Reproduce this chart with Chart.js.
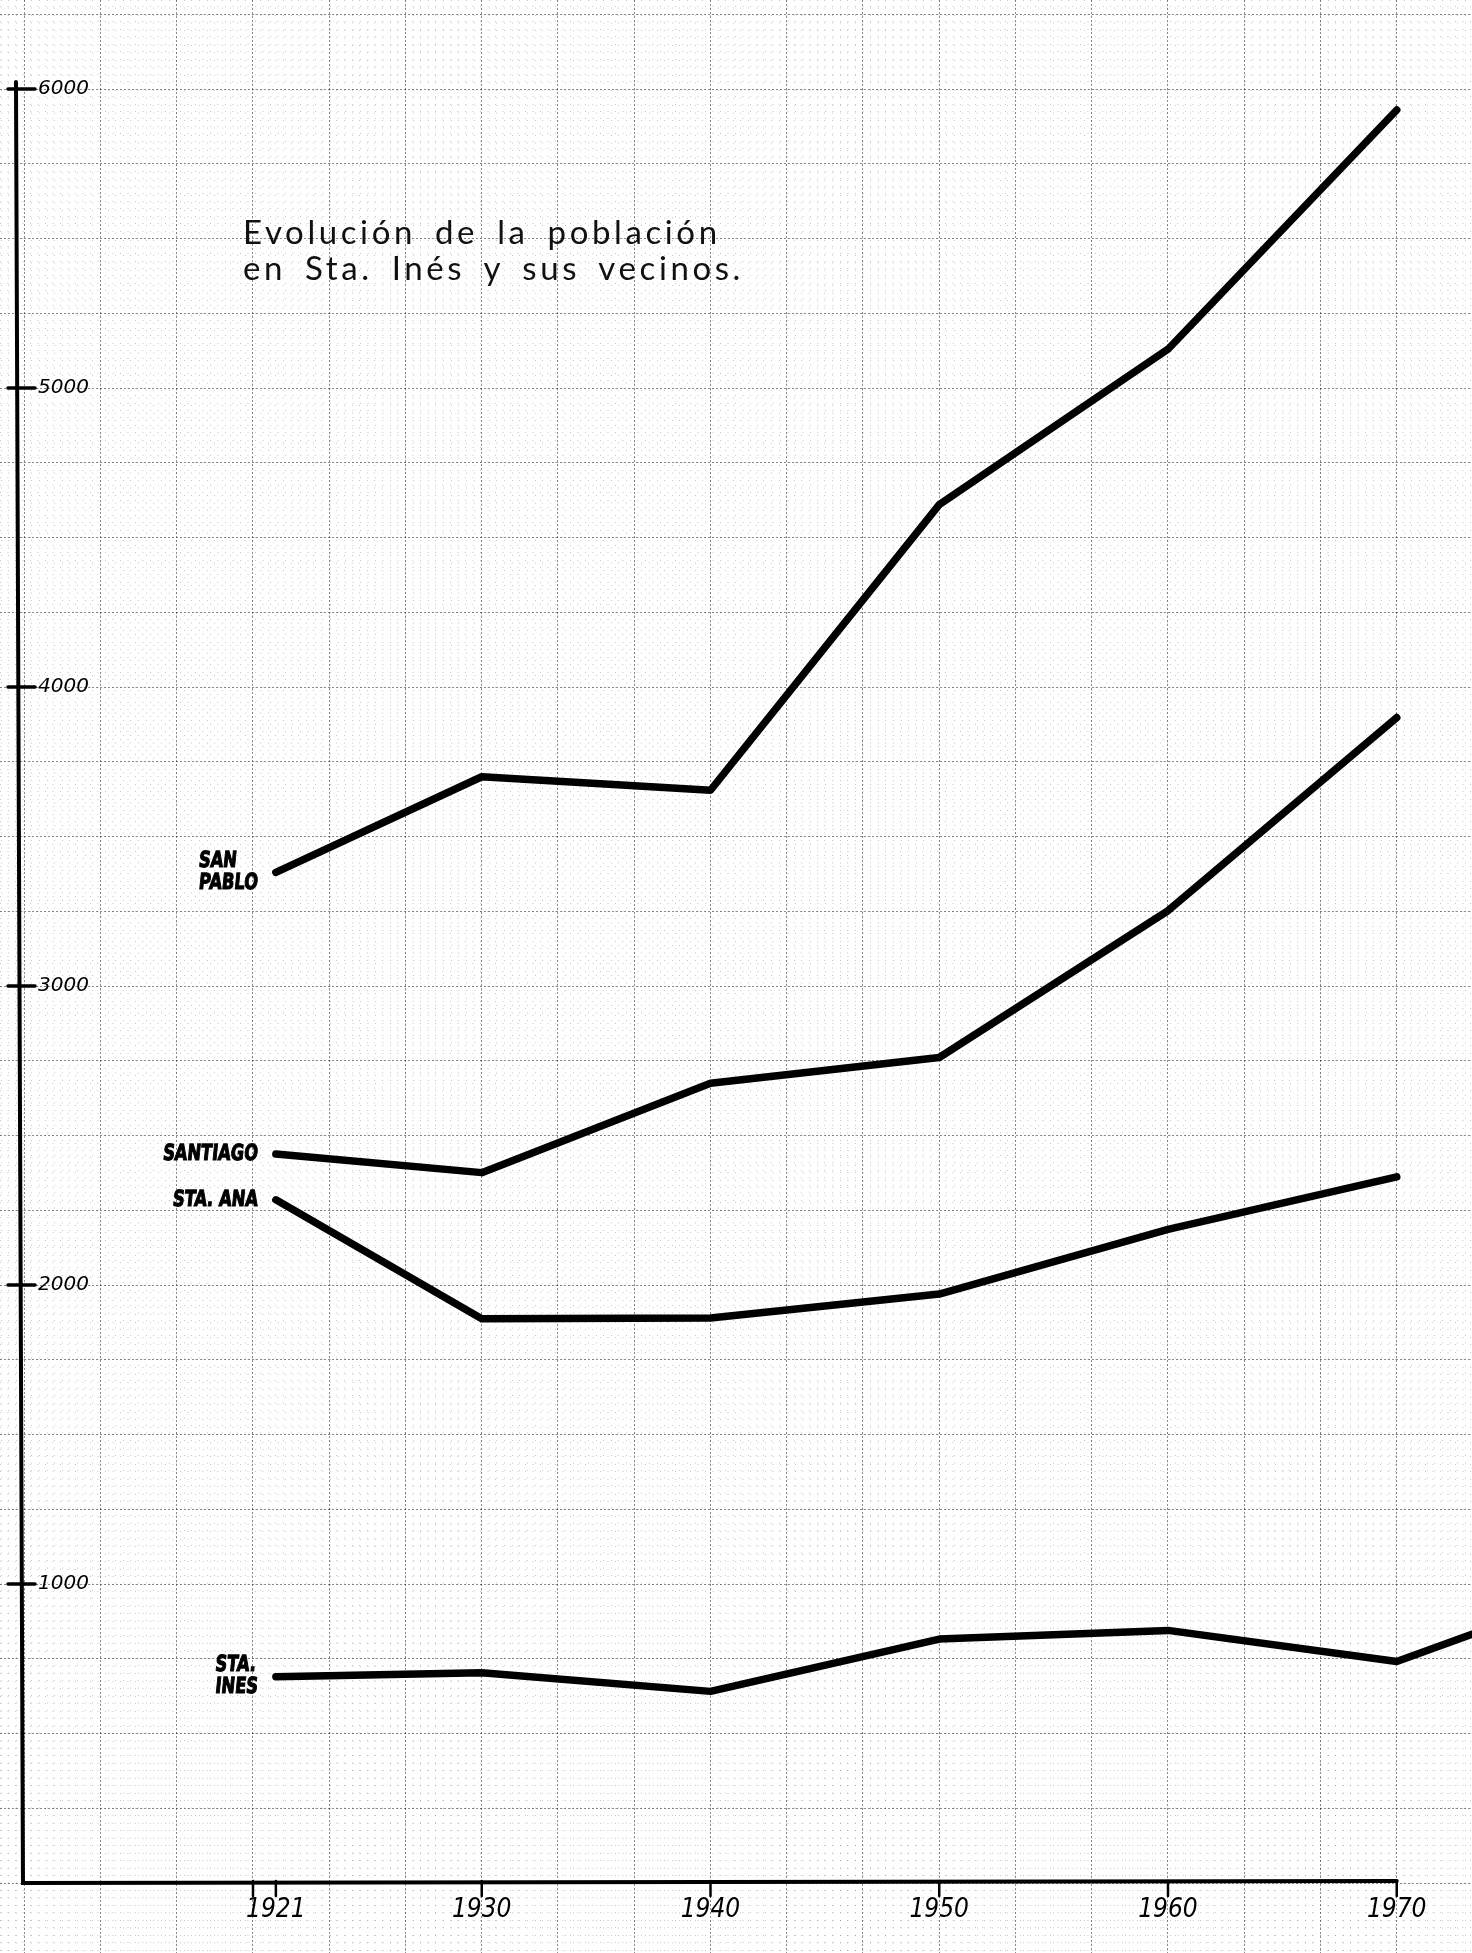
<!DOCTYPE html>
<html>
<head>
<meta charset="utf-8">
<script src="https://cdn.jsdelivr.net/npm/chart.js@4"></script>
<style>
  html, body { margin: 0; padding: 0; background: #ffffff; }
  #wrap { position: relative; width: 1472px; height: 1953px; overflow: hidden; }
  #c { position: absolute; left: 0; top: 0; }
  #title {
    position: absolute; left: 243px; top: 213px;
    font-family: Lato, "DejaVu Sans", sans-serif; font-size: 33px; line-height: 36px;
    letter-spacing: 3.6px; word-spacing: 7px; color: #111; white-space: nowrap;
  }
</style>
</head>
<body>
<div id="wrap">
  <canvas id="c" width="1472" height="1953"></canvas>
  <div id="title">Evolución de la población<br>en Sta. Inés y sus vecinos.</div>
</div>
<script>
// ---------------- data ----------------
const YEARS = [1921, 1930, 1940, 1950, 1960, 1970];
const SAN_PABLO = [3380, 3700, 3655, 4610, 5130, 5930];
const SANTIAGO  = [2438, 2376, 2675, 2761, 3252, 3898];
const STA_ANA   = [2285, 1887, 1890, 1970, 2186, 2362];
const STA_INES_YEARS = [1921, 1930, 1940, 1950, 1960, 1970, 1975];
const STA_INES  = [690, 703, 641, 816, 845, 741, 880];

const SERIES_NAMES = [["SAN", "PABLO"], ["SANTIAGO"], ["STA. ANA"], ["STA.", "INES"]];
const X_TICK_LABELS = [1921, 1930, 1940, 1950, 1960, 1970];
const X_TICK_MARKS = [1920, 1921, 1930, 1940, 1950, 1960, 1970];
const Y_TICK_LABELS = [1000, 2000, 3000, 4000, 5000, 6000];

// ---------------- scale ranges ----------------
const X_MIN = 1908.94, X_MAX = 1973.29;
const Y_MIN = -234, Y_MAX = 6298;
const AXIS_YEAR = 1909.77;
const AXIS_END_YEAR = 1970;
const AXIS_TOP_VALUE = 6000;

function steps(start, stop, step, lo, hi) {
  const out = [];
  for (let k = 0; ; k++) {
    const v = start + k * step;
    if (v > stop + 1e-9) break;
    if (v >= lo - 1e-9 && v <= hi + 1e-9) out.push({ value: v });
  }
  return out;
}

const toPts = (xs, ys) => xs.map((x, i) => ({ x: x, y: ys[i] }));

const lineStyle = {
  borderColor: "#000", borderWidth: 7.5, pointRadius: 0, pointHoverRadius: 0,
  fill: false, tension: 0, borderCapStyle: "round", borderJoinStyle: "round"
};

const handAxes = {
  id: "handAxes",
  beforeDatasetsDraw(chart) {
    const { ctx } = chart;
    const xs = chart.scales.x, ys = chart.scales.y;
    const ax = xs.getPixelForValue(AXIS_YEAR);
    const y0 = ys.getPixelForValue(0);
    ctx.save();
    ctx.strokeStyle = "#000";
    ctx.lineCap = "round";
    ctx.lineWidth = 4;
    ctx.beginPath();
    ctx.moveTo(ax - 3, ys.getPixelForValue(AXIS_TOP_VALUE) - 7);
    ctx.lineTo(ax + 4, y0);
    ctx.lineTo(xs.getPixelForValue(AXIS_END_YEAR), y0 - 2);
    ctx.stroke();
    ctx.lineWidth = 3.5;
    Y_TICK_LABELS.forEach(v => {
      const py = ys.getPixelForValue(v);
      ctx.beginPath(); ctx.moveTo(ax - 11, py); ctx.lineTo(ax + 16, py); ctx.stroke();
    });
    ctx.lineWidth = 2.5;
    X_TICK_MARKS.forEach(v => {
      const px = xs.getPixelForValue(v);
      ctx.beginPath(); ctx.moveTo(px, y0 - 2); ctx.lineTo(px, y0 + 13); ctx.stroke();
    });
    ctx.restore();
  }
};

const seriesLabels = {
  id: "seriesLabels",
  afterDatasetsDraw(chart) {
    const { ctx } = chart;
    const SX = 0.74, lineH = 22, gap = 18;
    ctx.save();
    ctx.fillStyle = "#000";
    ctx.strokeStyle = "#000";
    ctx.lineWidth = 1.2;
    ctx.font = "bold 22px 'DejaVu Sans', 'Liberation Sans', sans-serif";
    ctx.textBaseline = "middle";
    ctx.textAlign = "left";
    SERIES_NAMES.forEach((lines, i) => {
      const p = chart.getDatasetMeta(i).data[0];
      const w = Math.max(...lines.map(l => ctx.measureText(l).width)) * SX;
      const startY = p.y - (lines.length - 1) * lineH / 2;
      lines.forEach((l, k) => {
        ctx.save();
        ctx.translate(p.x - gap - w, startY + k * lineH);
        ctx.transform(SX, 0, -0.1, 1, 0, 0);
        ctx.fillText(l, 0, 0);
        ctx.strokeText(l, 0, 0);
        ctx.restore();
      });
    });
    ctx.restore();
  }
};

const zeroPad = s => { s.paddingTop = 0; s.paddingBottom = 0; s.paddingLeft = 0; s.paddingRight = 0; };
const zeroWidth = s => { zeroPad(s); s.width = 0; };
const zeroHeight = s => { zeroPad(s); s.height = 0; };

const MAJOR = "rgba(0,0,0,0.45)";
const MINOR = "rgba(0,0,0,0.22)";

new Chart(document.getElementById("c"), {
  type: "line",
  data: {
    datasets: [
      Object.assign({ label: "San Pablo", data: toPts(YEARS, SAN_PABLO) }, lineStyle),
      Object.assign({ label: "Santiago", data: toPts(YEARS, SANTIAGO) }, lineStyle),
      Object.assign({ label: "Sta. Ana", data: toPts(YEARS, STA_ANA) }, lineStyle),
      Object.assign({ label: "Sta. Inés", data: toPts(STA_INES_YEARS, STA_INES) }, lineStyle)
    ]
  },
  options: {
    responsive: false,
    animation: false,
    devicePixelRatio: 1,
    layout: { padding: 0 },
    events: [],
    plugins: { legend: { display: false }, tooltip: { enabled: false }, title: { display: false } },
    scales: {
      yMinor: {
        axis: "y", type: "linear", min: Y_MIN, max: Y_MAX, position: "left",
        afterBuildTicks: s => { s.ticks = steps(-225, Y_MAX, 25, Y_MIN, Y_MAX); },
        afterFit: zeroWidth,
        ticks: { display: false },
        grid: { drawTicks: false, color: MINOR, lineWidth: 1 },
        border: { display: false, dash: [1, 6.5] }
      },
      xMinor: {
        axis: "x", type: "linear", min: X_MIN, max: X_MAX, position: "bottom",
        afterBuildTicks: s => { s.ticks = steps(1920 - 40 / 3, X_MAX, 1 / 3, X_MIN, X_MAX); },
        afterFit: zeroHeight,
        ticks: { display: false },
        grid: { drawTicks: false, color: MINOR, lineWidth: 1 },
        border: { display: false, dash: [1, 6.5] }
      },
      xMajor: {
        axis: "x", type: "linear", min: X_MIN, max: X_MAX, position: "bottom",
        afterBuildTicks: s => { s.ticks = steps(1920 - 40 / 3, X_MAX, 10 / 3, X_MIN, X_MAX); },
        afterFit: zeroHeight,
        ticks: { display: false },
        grid: { drawTicks: false, color: MAJOR, lineWidth: 1 },
        border: { display: false, dash: [2, 2] }
      },
      y: {
        type: "linear", min: Y_MIN, max: Y_MAX, position: "left",
        afterBuildTicks: s => { s.ticks = steps(0, Y_MAX, 250, Y_MIN, Y_MAX); },
        afterFit: zeroWidth,
        ticks: {
          autoSkip: false, mirror: true, padding: 38,
          callback: v => (Y_TICK_LABELS.includes(Math.round(v)) ? String(Math.round(v)) : ""),
          color: "#000",
          font: { family: "'DejaVu Sans', sans-serif", size: 20, style: "italic" }
        },
        grid: { drawTicks: false, color: MAJOR, lineWidth: 1 },
        border: { display: false, dash: [2, 2] }
      },
      x: {
        type: "linear", min: X_MIN, max: X_MAX, position: { y: 0 },
        afterBuildTicks: s => { s.ticks = X_TICK_LABELS.map(v => ({ value: v })); },
        afterFit: zeroPad,
        ticks: {
          autoSkip: false, maxRotation: 0, padding: 12, color: "#000",
          callback: v => String(v),
          font: { family: "'Liberation Sans Narrow', 'DejaVu Sans Condensed', 'Liberation Sans', sans-serif", size: 26, style: "italic" }
        },
        grid: { display: false, drawTicks: false },
        border: { display: false }
      }
    }
  },
  plugins: [handAxes, seriesLabels]
});
</script>
</body>
</html>
